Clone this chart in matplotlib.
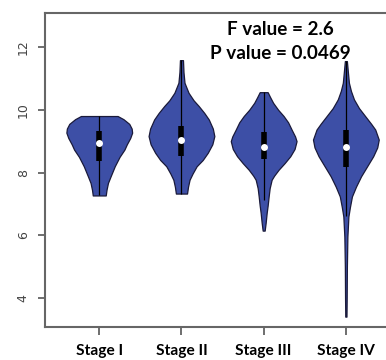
import numpy as np
import matplotlib.pyplot as plt

stages = ["Stage I", "Stage II", "Stage III", "Stage IV"]

# violin outlines: value levels and relative density (half width)
lev1 = [9.80, 9.70, 9.55, 9.40, 9.27, 9.10, 8.90, 8.73, 8.50, 8.20, 7.90, 7.67, 7.45, 7.27]
den1 = [19, 25, 31, 33.5, 34, 32, 28.5, 26, 21, 16, 12, 9, 7.5, 6.7]
lev2 = [11.58, 11.2, 10.86, 10.54, 10.30, 10.12, 9.90, 9.69, 9.40, 9.16, 8.90, 8.63, 8.40, 8.20, 7.97, 7.77, 7.55, 7.33]
den2 = [1.5, 2, 3, 7, 12, 17, 22.5, 27, 31, 32.5, 30.5, 26, 21, 15, 11, 8, 6.5, 5.5]
lev3 = [10.56, 10.40, 10.22, 10.00, 9.80, 9.60, 9.37, 9.15, 9.00, 8.75, 8.52, 8.30, 8.09, 7.90, 7.77, 7.50, 7.24, 6.95, 6.71, 6.40, 6.15]
den3 = [4, 6.5, 9.5, 14.5, 20, 24.5, 28, 31.5, 33, 31, 26.7, 21, 15, 10.5, 8, 6, 5, 4, 3, 2, 1]
lev4 = [11.55, 11.2, 10.86, 10.60, 10.33, 10.05, 9.80, 9.55, 9.37, 9.05, 8.80, 8.52, 8.20, 7.88, 7.55, 7.24, 6.90, 6.60, 5.96, 5.0, 4.0, 3.41]
den4 = [1, 2, 3, 5, 8, 13, 19, 25, 29, 32.5, 31, 27, 21, 15, 10, 6, 4, 2.5, 1.5, 1, 0.8, 0.6]

q1 = [8.38, 8.54, 8.43, 8.18]
med = [8.95, 9.03, 8.81, 8.82]
q3 = [9.32, 9.48, 9.28, 9.35]
wlo = [7.27, 7.33, 7.13, 6.60]
whi = [9.80, 11.58, 10.56, 11.55]

levels = [lev1, lev2, lev3, lev4]
dens = [den1, den2, den3, den4]

fig = plt.figure(figsize=(3.86, 3.6), dpi=100)
ax = fig.add_axes([0.1166, 0.0917, 0.92, 0.872])

pos = np.arange(1, 5)
for i in range(4):
    y = np.array(levels[i])
    d = np.array(dens[i])
    hw = d / d.max() * 0.4
    ax.fill_betweenx(y, pos[i] - hw, pos[i] + hw, facecolor="#3D4FA6",
                     edgecolor="#1a1a3a", linewidth=0.9, zorder=2)
ax.vlines(pos, wlo, whi, color="black", linewidth=0.9, zorder=3)
ax.vlines(pos, q1, q3, color="black", linewidth=4, zorder=4)
ax.plot(pos, med, "o", color="white", markersize=5, markeredgewidth=0, zorder=5)

ax.set_xlim(0.34, 4.66)
ax.set_ylim(3.08, 13.08)
ax.set_xticks(pos)
ax.set_xticklabels(stages, fontfamily="Lato", fontweight="bold", fontsize=11.2)
ax.set_yticks([4, 6, 8, 10, 12])
ax.set_yticklabels(["4", "6", "8", "10", "12"], rotation=90, va="center",
                   fontsize=9, color="#444444")
ax.tick_params(axis="y", length=5, width=1.2, color="#555555", pad=6)
ax.tick_params(axis="x", length=6, width=1.2, color="#555555", pad=6)
for s in ["left", "bottom", "top"]:
    ax.spines[s].set_color("#666666")
    ax.spines[s].set_linewidth(1.5)
ax.spines["right"].set_visible(False)

ax.text(3.2, 12.55, "F value = 2.6", ha="center", va="center",
        fontfamily="Lato", fontweight="bold", fontsize=13.6)
ax.text(3.2, 11.78, "P value = 0.0469", ha="center", va="center",
        fontfamily="Lato", fontweight="bold", fontsize=13.6)

fig.savefig("out.png", dpi=100)
